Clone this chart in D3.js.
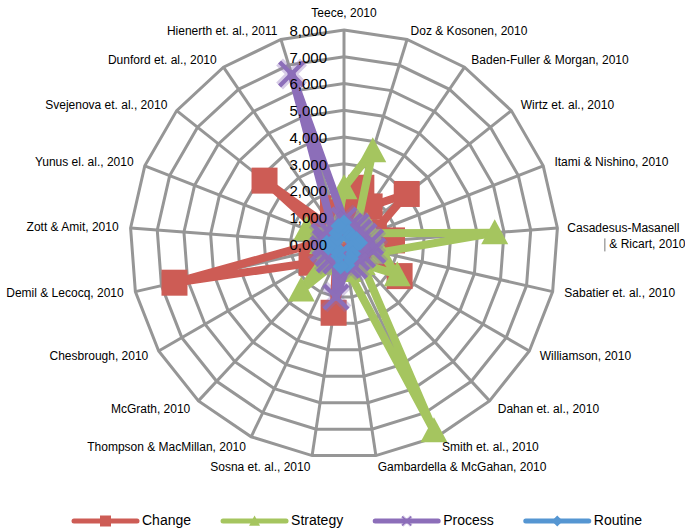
<!DOCTYPE html>
<html>
<head>
<meta charset="utf-8">
<script src="https://cdn.jsdelivr.net/npm/d3@7"></script>
<style>
  body { margin: 0; background: #fff; }
  svg { display: block; }
  text { font-family: "Liberation Sans", Arial, sans-serif; fill: #000; }
</style>
</head>
<body>
<svg id="chart" width="685" height="531"></svg>
<script>
// Publications plotted around the radar, clockwise from the top
const categories = [
  "Teece, 2010", "Doz & Kosonen, 2010", "Baden-Fuller & Morgan, 2010", "Wirtz et. al., 2010",
  "Itami & Nishino, 2010", "Casadesus-Masanell\n& Ricart, 2010", "Sabatier et. al., 2010",
  "Williamson, 2010", "Dahan et. al., 2010", "Smith et. al., 2010", "Gambardella & McGahan, 2010",
  "Sosna et. al., 2010", "Thompson & MacMillan, 2010", "McGrath, 2010", "Chesbrough, 2010",
  "Demil & Lecocq, 2010", "Zott & Amit, 2010", "Yunus el. al., 2010", "Svejenova et. al., 2010",
  "Dunford et. al., 2010", "Hienerth et. al., 2011"
];

const change   = [1200, 2200, 1700, 3000, 1200, 1800, 900, 2400, 700, 600, 500, 2600, 700, 800, 1400, 6500, 900, 700, 3800, 600, 1400];
const strategy = [2100, 3650, 900, 1100, 1100, 5650, 1400, 2300, 1000, 7750, 1000, 700, 800, 2350, 700, 600, 800, 1500, 700, 600, 800];
const process  = [900, 700, 800, 700, 800, 1000, 1100, 800, 700, 900, 800, 2000, 700, 800, 700, 800, 700, 800, 700, 800, 6650];
const routine  = [800, 500, 300, 400, 500, 600, 400, 300, 500, 600, 800, 850, 500, 300, 400, 600, 650, 400, 300, 500, 700];

const seriesNames = ["Change", "Strategy", "Process", "Routine"];
const tickValues = [0, 1000, 2000, 3000, 4000, 5000, 6000, 7000, 8000];
const tickLabels = ["0,000", "1,000", "2,000", "3,000", "4,000", "5,000", "6,000", "7,000", "8,000"];

// ---- layout & style ----
const cx = 344, cy = 244, R = 214;
const colors = ["#CD5C55", "#A5C55F", "#8C6EB9", "#5596D2"];
const markerKinds = ["square", "triangle", "x", "diamond"];
const gridColor = "#969696";

const svg = d3.select("#chart");
const n = categories.length;
const angle = d3.scaleLinear().domain([0, n]).range([0, 2 * Math.PI]);
const r = d3.scaleLinear().domain([0, 8000]).range([0, R]);

const g = svg.append("g").attr("transform", `translate(${cx},${cy})`);

// ---- grid: rings and spokes ----
const ringLine = d3.lineRadial()
  .angle((d, i) => angle(i))
  .radius(d => r(d))
  .curve(d3.curveLinearClosed);

g.append("g").selectAll("path")
  .data(tickValues.filter(v => v > 0))
  .join("path")
  .attr("d", v => ringLine(d3.range(n).map(() => v)))
  .attr("fill", "none")
  .attr("stroke", gridColor)
  .attr("stroke-width", 3);

g.append("g").selectAll("line")
  .data(d3.range(n))
  .join("line")
  .attr("x1", 0).attr("y1", 0)
  .attr("x2", i => r(8000) * Math.sin(angle(i)))
  .attr("y2", i => -r(8000) * Math.cos(angle(i)))
  .attr("stroke", gridColor)
  .attr("stroke-width", 3);

// ---- marker shapes ----
function markerPath(kind, s) {
  const h = s / 2;
  if (kind === "square") return `M${-h},${-h}H${h}V${h}H${-h}Z`;
  if (kind === "triangle") return `M0,${-h}L${h},${h * 0.85}L${-h},${h * 0.85}Z`;
  if (kind === "diamond") return `M0,${-h}L${h},0L0,${h}L${-h},0Z`;
  return `M${-h},${-h}L${h},${h}M${h},${-h}L${-h},${h}`;
}
function drawMarker(sel, kind, color, s) {
  if (kind === "x") {
    sel.append("path").attr("d", markerPath(kind, s))
      .attr("stroke", color).attr("stroke-opacity", 0.35).attr("stroke-width", s * 0.4).attr("fill", "none");
    sel.append("path").attr("d", markerPath(kind, s))
      .attr("stroke", color).attr("stroke-width", s * 0.18).attr("fill", "none");
  } else {
    sel.append("path").attr("d", markerPath(kind, s)).attr("fill", color);
  }
}

// ---- series ----
const seriesData = [change, strategy, process, routine];
const seriesLine = d3.lineRadial()
  .angle((d, i) => angle(i))
  .radius(d => r(d))
  .curve(d3.curveLinearClosed);
const markerSizes = [26, 27, 24, 16];

seriesData.forEach((vals, k) => {
  const sg = g.append("g");
  sg.append("path")
    .attr("d", seriesLine(vals))
    .attr("fill", "none")
    .attr("stroke", colors[k])
    .attr("stroke-width", 8)
    .attr("stroke-linejoin", "round");
  vals.forEach((v, i) => {
    const a = angle(i);
    const m = sg.append("g")
      .attr("transform", `translate(${r(v) * Math.sin(a)},${-r(v) * Math.cos(a)})`);
    drawMarker(m, markerKinds[k], colors[k], markerSizes[k]);
  });
});

// ---- value axis labels along the top spoke ----
g.append("g").selectAll("text")
  .data(tickValues)
  .join("text")
  .attr("x", -17)
  .attr("y", v => -r(v) + 2)
  .attr("text-anchor", "end")
  .attr("dominant-baseline", "middle")
  .attr("font-size", 15)
  .text((v, i) => tickLabels[i]);

// ---- category labels ----
const lab = g.append("g").attr("font-size", 12);
categories.forEach((name, i) => {
  const a = angle(i);
  const s = Math.sin(a), c = Math.cos(a);
  let x = (R + 12) * s;
  let y = c > 0 ? -(R + 8) * c : -(R + 12) * c;
  let anchor = Math.abs(s) < 1e-6 ? "middle" : (s > 0 ? "start" : "end");
  if (i === 0) y = -R - 16;
  const lines = name.split("\n");
  if (lines.length > 1) {
    const t = lab.append("text").attr("text-anchor", "start").attr("dominant-baseline", "middle");
    t.append("tspan").attr("x", x - 2).attr("y", y + 2).text(lines[0]);
    t.append("tspan").attr("x", x + 40).attr("y", y + 18).text(lines[1]);
    lab.append("line")
      .attr("x1", x + 35.5).attr("x2", x + 35.5)
      .attr("y1", y + 11).attr("y2", y + 24)
      .attr("stroke", "#777").attr("stroke-width", 1);
  } else {
    lab.append("text")
      .attr("x", x).attr("y", y)
      .attr("text-anchor", anchor)
      .attr("dominant-baseline", "middle")
      .text(name);
  }
});

// ---- legend ----
const legend = svg.append("g").attr("transform", "translate(74,521)");
let lx = 0;
seriesNames.forEach((name, k) => {
  const item = legend.append("g").attr("transform", `translate(${lx},0)`);
  item.append("line").attr("x1", 0).attr("x2", 63).attr("y1", 0).attr("y2", 0)
    .attr("stroke", colors[k]).attr("stroke-width", 5).attr("stroke-linecap", "round");
  const m = item.append("g").attr("transform", "translate(31.5,0)");
  drawMarker(m, markerKinds[k], colors[k], k === 2 ? 9 : 11);
  const t = item.append("text").attr("x", 68).attr("y", 0)
    .attr("dominant-baseline", "middle").attr("font-size", 14).text(name);
  lx += 68 + t.node().getComputedTextLength() + 32;
});
</script>
</body>
</html>
